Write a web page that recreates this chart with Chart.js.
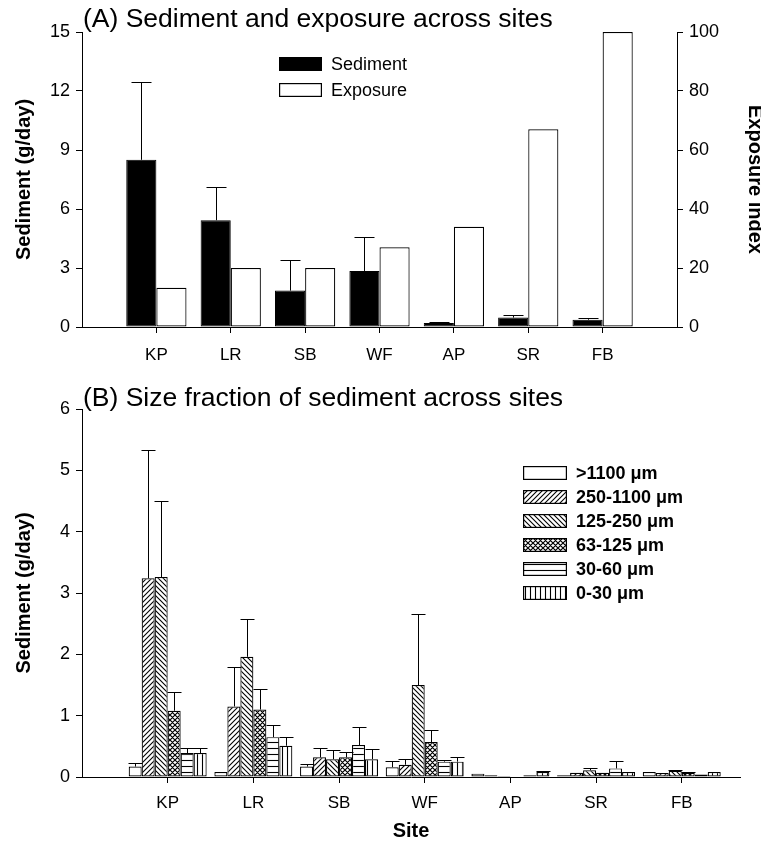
<!DOCTYPE html>
<html>
<head>
<meta charset="utf-8">
<script src="https://cdn.jsdelivr.net/npm/chart.js@4.4.0/dist/chart.umd.min.js"></script>
<style>
  body { margin: 0; background: #fff; font-family: "Liberation Sans", Arial, sans-serif; color: #000; }
  #wrap { position: relative; width: 761px; height: 847px; overflow: hidden; }
  #wrap canvas.chart { position: absolute; left: 0; }
  .title { position: absolute; left: 83px; font-size: 26.5px; line-height: 26px; white-space: nowrap; }
  .legend { position: absolute; }
  .row { position: absolute; left: 0; display: flex; align-items: center; white-space: nowrap; }
  .row canvas { display: block; }
</style>
</head>
<body>
<div id="wrap">
  <canvas id="chartA" class="chart" width="761" height="380" style="top:0"></canvas>
  <canvas id="chartB" class="chart" width="761" height="467" style="top:380px"></canvas>
  <div class="title" style="top:5px">(A) Sediment and exposure across sites</div>
  <div class="title" style="top:384px">(B) Size fraction of sediment across sites</div>
  <div id="legendA" class="legend" style="left:279px; top:0"></div>
  <div id="legendB" class="legend" style="left:523px; top:0"></div>
</div>
<script>
// sites along the x axis
const sites = ['KP', 'LR', 'SB', 'WF', 'AP', 'SR', 'FB'];

// panel A
const sediment = [8.5, 5.43, 1.85, 2.85, 0.2, 0.48, 0.37];
const sedimentErr = [12.45, 7.1, 3.4, 4.57, 0.24, 0.6, 0.48];
const exposure = [13.3, 20, 20, 27, 34, 67, 100];
const sedimentTicks = [0, 3, 6, 9, 12, 15];
const exposureTicks = [0, 20, 40, 60, 80, 100];

// panel B, size fractions (g/day)
const fractionNames = ['>1100 μm', '250-1100 μm', '125-250 μm', '63-125 μm', '30-60 μm', '0-30 μm'];
const gt1100 = [0.17, 0.08, 0.17, 0.16, 0.055, 0.03, 0.08];
const gt1100Err = [0.23, null, 0.22, 0.26, null, null, null];
const f250to1100 = [3.24, 1.15, 0.32, 0.20, 0.03, 0.07, 0.065];
const f250to1100Err = [5.33, 1.79, 0.48, 0.30, null, null, null];
const f125to250 = [3.26, 1.96, 0.29, 1.50, 0.015, 0.11, 0.10];
const f125to250Err = [4.50, 2.57, 0.44, 2.66, null, 0.14, 0.12];
const f63to125 = [1.08, 1.10, 0.32, 0.57, 0.01, 0.07, 0.07];
const f63to125Err = [1.39, 1.43, 0.40, 0.76, null, null, 0.08];
const f30to60 = [0.39, 0.65, 0.52, 0.25, 0.03, 0.14, 0.04];
const f30to60Err = [0.47, 0.84, 0.82, 0.28, null, 0.26, null];
const f0to30 = [0.39, 0.51, 0.29, 0.25, 0.08, 0.08, 0.08];
const f0to30Err = [0.47, 0.66, 0.45, 0.32, 0.09, null, null];
const fractionTicks = [0, 1, 2, 3, 4, 5, 6];

const toXY = vals => vals.map((v, i) => ({ x: i + 1, y: v }));

// hatch fills
function makePattern(kind) {
  const s = kind === 'hline' ? 6 : 5;
  const c = document.createElement('canvas');
  c.width = s; c.height = s;
  const g = c.getContext('2d');
  g.fillStyle = '#fff';
  g.fillRect(0, 0, s, s);
  g.strokeStyle = '#000';
  g.lineWidth = kind === 'cross' ? 1.2 : 1.1;
  g.beginPath();
  if (kind === 'up' || kind === 'cross') {
    g.moveTo(-1, s + 1); g.lineTo(s + 1, -1);
    g.moveTo(-1, 1); g.lineTo(1, -1);
    g.moveTo(s - 1, s + 1); g.lineTo(s + 1, s - 1);
  }
  if (kind === 'down' || kind === 'cross') {
    g.moveTo(-1, -1); g.lineTo(s + 1, s + 1);
    g.moveTo(s - 1, -1); g.lineTo(s + 1, 1);
    g.moveTo(-1, s - 1); g.lineTo(1, s + 1);
  }
  if (kind === 'hline') { g.moveTo(0, 2.5); g.lineTo(s, 2.5); }
  if (kind === 'vline') { g.moveTo(2.5, 0); g.lineTo(2.5, s); }
  g.stroke();
  return g.createPattern(c, 'repeat');
}

const fills = ['#fff', makePattern('up'), makePattern('down'), makePattern('cross'), makePattern('hline'), makePattern('vline')];

// error bars (upper half only), drawn from the bar elements and the y scale
const errorBars = {
  id: 'errorBars',
  afterDatasetsDraw(chart, args, opts) {
    const ctx = chart.ctx;
    chart.data.datasets.forEach((ds, di) => {
      if (!ds.errors) return;
      const meta = chart.getDatasetMeta(di);
      const yScale = chart.scales[meta.yAxisID];
      ctx.save();
      ctx.strokeStyle = '#000';
      ctx.lineWidth = 1;
      meta.data.forEach((bar, i) => {
        const e = ds.errors[i];
        if (e == null) return;
        const x = Math.round(bar.x) + 0.5;
        const yTop = Math.round(yScale.getPixelForValue(e)) + 0.5;
        const half = opts.cap / 2;
        ctx.beginPath();
        ctx.moveTo(x, bar.y);
        ctx.lineTo(x, yTop);
        ctx.moveTo(x - half, yTop);
        ctx.lineTo(x + half, yTop);
        ctx.stroke();
      });
      ctx.restore();
    });
  }
};

const tickFont = { family: '"Liberation Sans", Arial, sans-serif', size: 18 };
const titleFont = { family: '"Liberation Sans", Arial, sans-serif', size: 20, weight: 'bold' };

function siteAxis(max, height, padding, title) {
  return {
    type: 'linear', min: 0, max: max, offset: false,
    afterBuildTicks: s => { s.ticks = sites.map((_, i) => ({ value: i + 1 })); },
    afterFit: s => { s.height = height; },
    ticks: { callback: v => sites[v - 1], color: '#000', font: { ...tickFont, size: 17 }, padding: padding, maxRotation: 0, autoSkip: false },
    grid: { drawOnChartArea: false, offset: false, tickLength: 6, color: '#000' },
    border: { color: '#000', width: 1 },
    title: title ? { display: true, text: title, color: '#000', font: titleFont, padding: { top: 0, bottom: 4 } } : { display: false }
  };
}

function valueAxis(pos, ticks, width, title, titlePad) {
  return {
    position: pos, min: ticks[0], max: ticks[ticks.length - 1],
    afterBuildTicks: s => { s.ticks = ticks.map(v => ({ value: v })); },
    afterFit: s => { s.width = width; },
    ticks: { color: '#000', font: tickFont, padding: 6 },
    grid: { drawOnChartArea: false, tickLength: 6, color: '#000' },
    border: { color: '#000', width: 1 },
    title: { display: true, text: title, color: '#000', font: titleFont, padding: { top: titlePad, bottom: 0 } }
  };
}

new Chart(document.getElementById('chartA'), {
  type: 'bar',
  data: {
    datasets: [
      { label: 'Sediment', data: toXY(sediment), errors: sedimentErr, yAxisID: 'y',
        backgroundColor: '#000', borderColor: '#000', borderWidth: 1, borderSkipped: false },
      { label: 'Exposure', data: toXY(exposure), yAxisID: 'y2',
        backgroundColor: '#fff', borderColor: '#000', borderWidth: 1.2, borderSkipped: false }
    ]
  },
  options: {
    responsive: false, animation: false, devicePixelRatio: 1,
    layout: { padding: { top: 32, left: 0, right: 0, bottom: 0 } },
    datasets: { bar: { categoryPercentage: 0.81, barPercentage: 1 } },
    plugins: { legend: { display: false }, tooltip: { enabled: false }, errorBars: { cap: 20 } },
    scales: {
      x: siteAxis(8, 53, 12),
      y: valueAxis('left', sedimentTicks, 82, 'Sediment (g/day)', 12),
      y2: valueAxis('right', exposureTicks, 84, 'Exposure index', -6)
    }
  },
  plugins: [errorBars]
});

const fractionData = [gt1100, f250to1100, f125to250, f63to125, f30to60, f0to30];
const fractionErr = [gt1100Err, f250to1100Err, f125to250Err, f63to125Err, f30to60Err, f0to30Err];

new Chart(document.getElementById('chartB'), {
  type: 'bar',
  data: {
    datasets: fractionData.map((vals, k) => ({
      label: fractionNames[k], data: toXY(vals), errors: fractionErr[k],
      backgroundColor: fills[k], borderColor: '#000', borderWidth: 1.2, borderSkipped: false
    }))
  },
  options: {
    responsive: false, animation: false, devicePixelRatio: 1,
    layout: { padding: { top: 29, left: 0, right: 21, bottom: 0 } },
    datasets: { bar: { categoryPercentage: 0.91, barPercentage: 1 } },
    plugins: { legend: { display: false }, tooltip: { enabled: false }, errorBars: { cap: 14 } },
    scales: {
      x: siteAxis(7.68, 70, 10, 'Site'),
      y: valueAxis('left', fractionTicks, 82, 'Sediment (g/day)', 12)
    }
  },
  plugins: [errorBars]
});

// html legends with the same fills
function legendRow(parent, fill, text, y, w, h, font) {
  const row = document.createElement('div');
  row.className = 'row';
  row.style.top = (y - 12) + 'px';
  row.style.height = '24px';
  const sw = document.createElement('canvas');
  sw.width = w; sw.height = h;
  const g = sw.getContext('2d');
  g.fillStyle = fill;
  g.fillRect(0, 0, w, h);
  g.strokeStyle = '#000';
  g.lineWidth = 1.2;
  g.strokeRect(0.6, 0.6, w - 1.2, h - 1.2);
  const label = document.createElement('span');
  label.textContent = text;
  label.style.font = font;
  label.style.marginLeft = '9px';
  row.appendChild(sw);
  row.appendChild(label);
  parent.appendChild(row);
}

const legA = document.getElementById('legendA');
legendRow(legA, '#000', 'Sediment', 64, 43, 14, '18px "Liberation Sans", Arial, sans-serif');
legendRow(legA, '#fff', 'Exposure', 90, 43, 14, '18px "Liberation Sans", Arial, sans-serif');

const legB = document.getElementById('legendB');
const legendRowsB = [473, 497, 521, 545, 569, 593];
fractionNames.forEach((name, k) => {
  legendRow(legB, fills[k], name, legendRowsB[k], 44, 14, 'bold 18px "Liberation Sans", Arial, sans-serif');
});
</script>
</body>
</html>
